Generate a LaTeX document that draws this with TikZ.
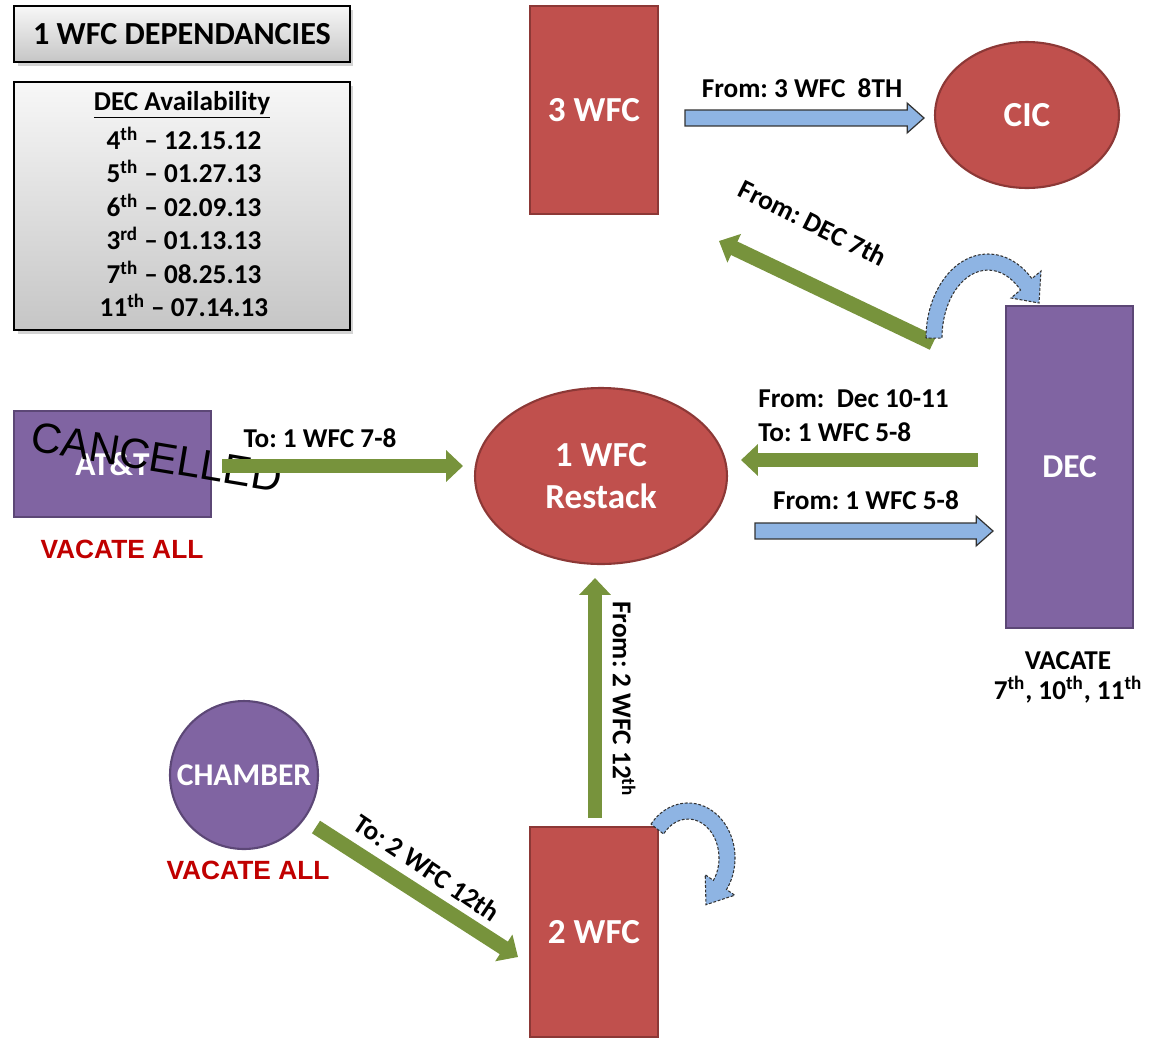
\documentclass[tikz,border=0pt]{standalone}
\usepackage{fontspec}
\setmainfont{Carlito}
\newfontfamily\arialfont{Liberation Sans}
\usetikzlibrary{arrows.meta,calc,shadows,shapes.geometric,positioning}
\definecolor{boxred}{HTML}{C0504D}
\definecolor{boxredline}{HTML}{8C3836}
\definecolor{boxpurple}{HTML}{8064A2}
\definecolor{boxpurpleline}{HTML}{5C4776}
\definecolor{arrowgreen}{HTML}{77933C}
\definecolor{arrowblue}{HTML}{8EB4E3}
\definecolor{vacatered}{HTML}{C00000}
\frenchspacing
\begin{document}
\begin{tikzpicture}[x=0.02cm,y=-0.02cm,
  redbox/.style={draw=boxredline, line width=1.2pt, fill=boxred, text=white, inner sep=0pt, font=\fontsize{20}{24}\selectfont\bfseries},
  purplebox/.style={draw=boxpurpleline, line width=1.2pt, fill=boxpurple, text=white, inner sep=0pt, font=\fontsize{19}{23}\selectfont\bfseries},
  graybox/.style={draw=black, line width=0.8pt, top color=gray!6, bottom color=gray!45, drop shadow={shadow xshift=2pt, shadow yshift=-2pt, opacity=0.35}, inner sep=0pt},
  lbl/.style={font=\fontsize{15.5}{19}\selectfont\bfseries, inner sep=0pt},
  vacate/.style={font=\arialfont\fontsize{15}{18}\selectfont\bfseries, text=vacatered, inner sep=0pt},
  greenarrow/.style={draw=arrowgreen, line width=8.5pt, -{Triangle[width=17.5pt,length=9.6pt]}},
  bluearrow/.style={draw=black!80, line width=0.7pt, fill=arrowblue,
    to path={let \p1=(\tikztostart), \p2=(\tikztotarget) in
      (\x1,\y1+4.5pt) -- (\x2-9.6pt,\y1+4.5pt) -- (\x2-9.6pt,\y1+8.5pt) -- (\x2,\y1)
      -- (\x2-9.6pt,\y1-8.5pt) -- (\x2-9.6pt,\y1-4.5pt) -- (\x1,\y1-4.5pt) -- cycle}},
  curvearrow/.style={fill=arrowblue, draw=black!80, dash pattern=on 1.6pt off 1pt, line width=0.6pt}]
\useasboundingbox (0,0) rectangle (1156,1039);

% legend boxes
\node[graybox, minimum width=6.72cm, minimum height=1.12cm, font=\fontsize{18.3}{22}\selectfont\bfseries] (title) at (182,34) {1 WFC DEPENDANCIES};
\node[graybox, minimum width=6.72cm, minimum height=4.96cm] (avail) at (182,206) {};
\node[lbl] (availhead) at (182,105) {\underline{DEC Availability}};
\foreach \n/\s/\d [count=\i] in {4/th/12.15.12, 5/th/01.27.13, 6/th/02.09.13, 3/rd/01.13.13, 7/th/08.25.13, 11/th/07.14.13}{
\node[lbl] (availrow\i) at (184,{105+\i*33.4}) {\n\textsuperscript{\s} \textendash\ \d}; }

% buildings
\node[redbox, minimum width=2.56cm, minimum height=4.16cm] (wfcthree) at (594,110) {3 WFC};
\node[redbox, ellipse, minimum width=3.68cm, minimum height=2.92cm] (cic) at (1027,115) {CIC};
\node[purplebox, minimum width=2.54cm, minimum height=6.44cm] (dec) at (1069.5,467) {DEC};
\node[redbox, ellipse, minimum width=5.04cm, minimum height=3.52cm, align=center] (restack) at (601,476) {1 WFC\\Restack};
\node[purplebox, minimum width=3.94cm, minimum height=2.12cm] (att) at (112.5,464) {AT\&T};
\node[purplebox, circle, minimum size=2.96cm, font=\fontsize{18}{22}\selectfont\bfseries] (chamber) at (244,775) {CHAMBER};
\node[redbox, minimum width=2.56cm, minimum height=4.2cm] (wfctwo) at (594,932) {2 WFC};

\node[font=\arialfont\fontsize{24}{27}\selectfont, rotate=-9.5, inner sep=0pt] (cancel) at (157,457) {CANCELLED};
\node[vacate] (attvacate) at (122,549) {VACATE ALL};
\node[vacate] (chambervacate) at (248,870) {VACATE ALL};
\node[lbl, align=center, font=\fontsize{15.5}{17}\selectfont\bfseries] (decvacate) at (1068,677) {VACATE\\7\textsuperscript{th}, 10\textsuperscript{th}, 11\textsuperscript{th}};

% arrow ends
\coordinate (attout) at (222,466);
\coordinate (restackleft) at (463,466);
\coordinate (decout) at (978,460);
\coordinate (restackright) at (741,460);
\coordinate (wfctwoout) at (595,818);
\coordinate (restackbelow) at (595,578);
\coordinate (decseven) at (933,343);
\coordinate (wfcthreein) at (719,241);
\coordinate (chamberout) at (316,827);
\coordinate (wfctwoin) at (518,957);
\coordinate (wfcthreeout) at (685,118);
\coordinate (cicin) at (924,118);
\coordinate (restackout) at (755,531);
\coordinate (decin) at (993,531);

\draw[greenarrow] (attout) -- (restackleft);
\draw[greenarrow] (decout) -- (restackright);
\draw[greenarrow] (wfctwoout) -- (restackbelow);
\draw[greenarrow] (decseven) -- (wfcthreein);
\draw[greenarrow] (chamberout) -- (wfctwoin);
\draw[bluearrow] (wfcthreeout) to (cicin);
\draw[bluearrow] (restackout) to (decin);

% turn arrows
\draw[curvearrow] (926,338) arc[start angle=180, end angle=315, x radius=62, y radius=84]
  -- (1041,271) -- (1039,303) -- (1011,298) -- (1020.5,290)
  arc[start angle=315, end angle=180, x radius=46, y radius=68] -- cycle;
\draw[curvearrow] (651,824.1) arc[start angle=218, end angle=395, x radius=47, y radius=55]
  -- (734.7,895.2) -- (706,904.7) -- (705.2,874.7) -- (713.4,880.4)
  arc[start angle=395, end angle=218, x radius=31, y radius=39] -- cycle;

% labels
\node[lbl] (fromthree) at (802,88) {From: 3 WFC\ \ 8TH};
\node[lbl, rotate=-26.5] (fromdecseven) at (813,223) {From: DEC 7th};
\node[lbl, anchor=west, align=left, font=\fontsize{15.5}{19.5}\selectfont\bfseries] (fromdecten) at (758,416) {From:\ \ Dec 10-11\\To: 1 WFC 5-8};
\node[lbl] (fromonewfc) at (866,500) {From: 1 WFC 5-8};
\node[lbl] (toonewfc) at (320,438) {To: 1 WFC 7-8};
\node[lbl, rotate=-90] (fromtwowfc) at (624,699) {From: 2 WFC 12\textsuperscript{th}};
\node[lbl, rotate=-34] (totwowfc) at (427,868) {To: 2 WFC 12th};
\end{tikzpicture}
\end{document}
